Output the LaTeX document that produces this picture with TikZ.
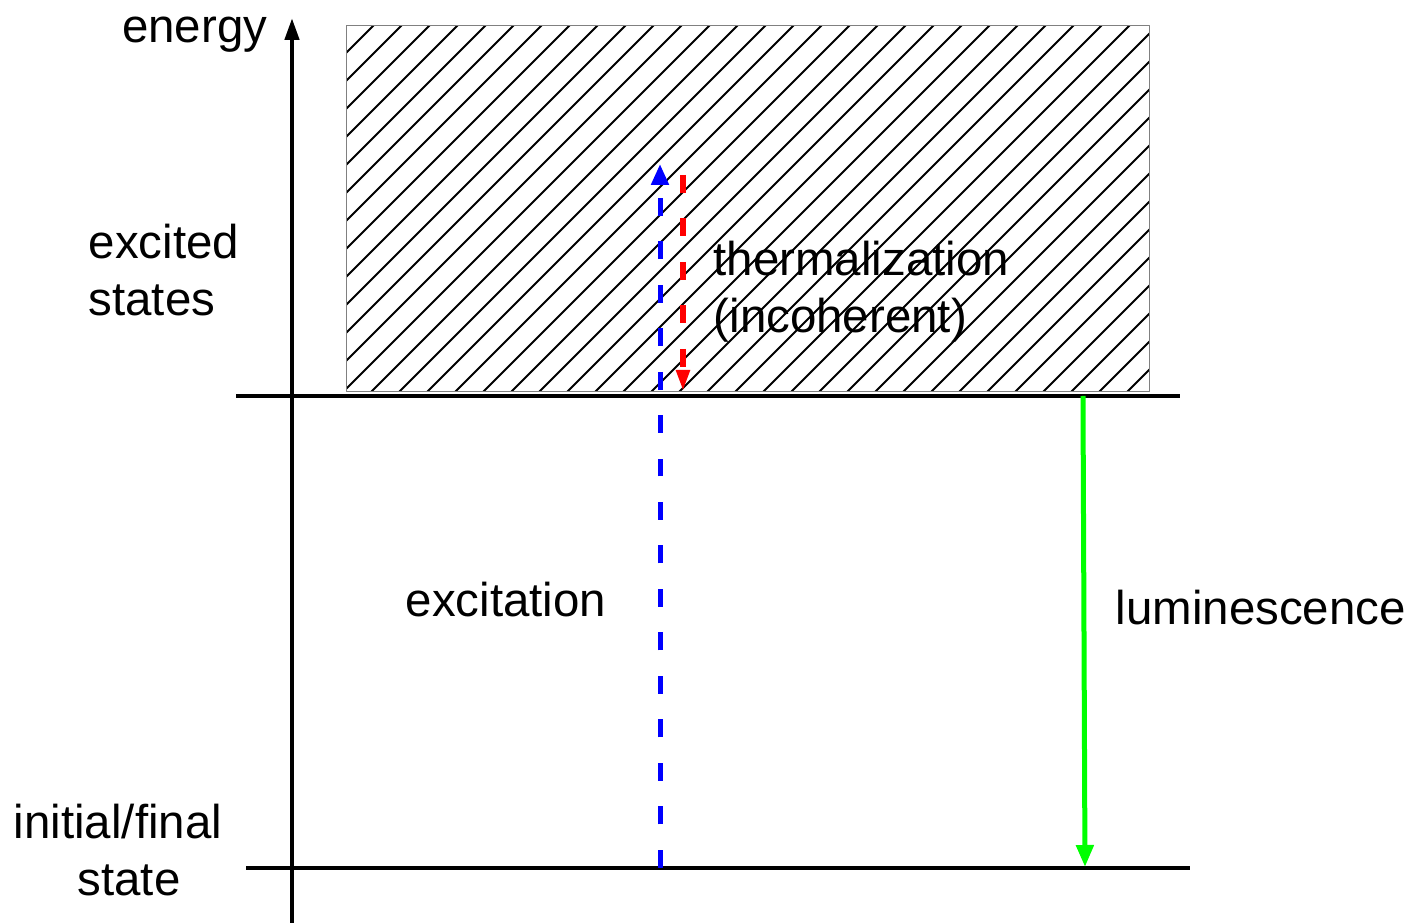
\documentclass[tikz,border=0pt]{standalone}
\usepackage{fontspec}
\setmainfont{Liberation Sans}
\usetikzlibrary{arrows.meta}
\definecolor{exblue}{RGB}{0,0,255}
\definecolor{thred}{RGB}{255,0,0}
\definecolor{lumgreen}{RGB}{0,255,0}
\begin{document}
\begin{tikzpicture}[>={Triangle[length=0.21cm,width=0.15cm]}, line join=round,
  lbl/.style={font=\fontsize{13.5}{16.2}\selectfont, inner sep=0pt},
  level/.style={line width=0.035cm},
  trans/.style={line width=0.05cm, dash pattern=on 0.18cm off 0.255cm}]

\useasboundingbox (0,0) rectangle (14.1,9.23);

\coordinate (band-sw) at (3.46,5.31);
\coordinate (band-ne) at (11.49,8.97);
\begin{scope}
\clip (band-sw) rectangle (band-ne);
\foreach \k in {-1,...,43}
  \draw[line width=0.02cm] ({-0.24+0.28*\k},5) -- ++(4.2,4.2);
\end{scope}
\draw[gray, line width=0.01cm] (band-sw) rectangle (band-ne);

\coordinate (ex-l) at (2.36,5.27);
\coordinate (ex-r) at (11.8,5.27);
\coordinate (gs-l) at (2.46,0.55);
\coordinate (gs-r) at (11.9,0.55);
\draw[level] (ex-l) -- (ex-r);
\draw[level] (gs-l) -- (gs-r);

\coordinate (ax-0) at (2.92,0);
\coordinate (ax-1) at (2.92,9.05);
\draw[line width=0.045cm, ->, >={Triangle[length=0.22cm,width=0.14cm]}] (ax-0) -- (ax-1);
\node[lbl, anchor=east] (energy) at (2.68,8.88) {energy};

\coordinate (exc-0) at (6.6,0.55);
\coordinate (exc-1) at (6.6,7.59);
\draw[trans, exblue, ->, >={Triangle[length=0.21cm,width=0.17cm]}] (exc-0) -- (exc-1);

\coordinate (th-0) at (6.83,7.48);
\coordinate (th-1) at (6.83,5.32);
\draw[trans, thred, ->, >={Triangle[length=0.21cm,width=0.13cm]}] (th-0) -- (th-1);

\coordinate (lum-0) at (10.83,5.27);
\coordinate (lum-1) at (10.85,0.56);
\draw[line width=0.05cm, lumgreen, ->, >={Triangle[length=0.22cm,width=0.17cm]}] (lum-0) -- (lum-1);

\node[lbl, anchor=west, align=left] (excited) at (0.88,6.53) {excited\\states};
\node[lbl, align=center] (initial) at (1.18,0.73) {initial/final\\\hspace*{0.22cm}state};
\node[lbl, anchor=west, align=left] (therm) at (7.13,6.31) {thermalization\\(incoherent)};
\node[lbl, anchor=west] (excitation) at (4.05,3.23) {excitation};
\node[lbl, anchor=west] (lumin) at (11.15,3.15) {luminescence};

\end{tikzpicture}
\end{document}
